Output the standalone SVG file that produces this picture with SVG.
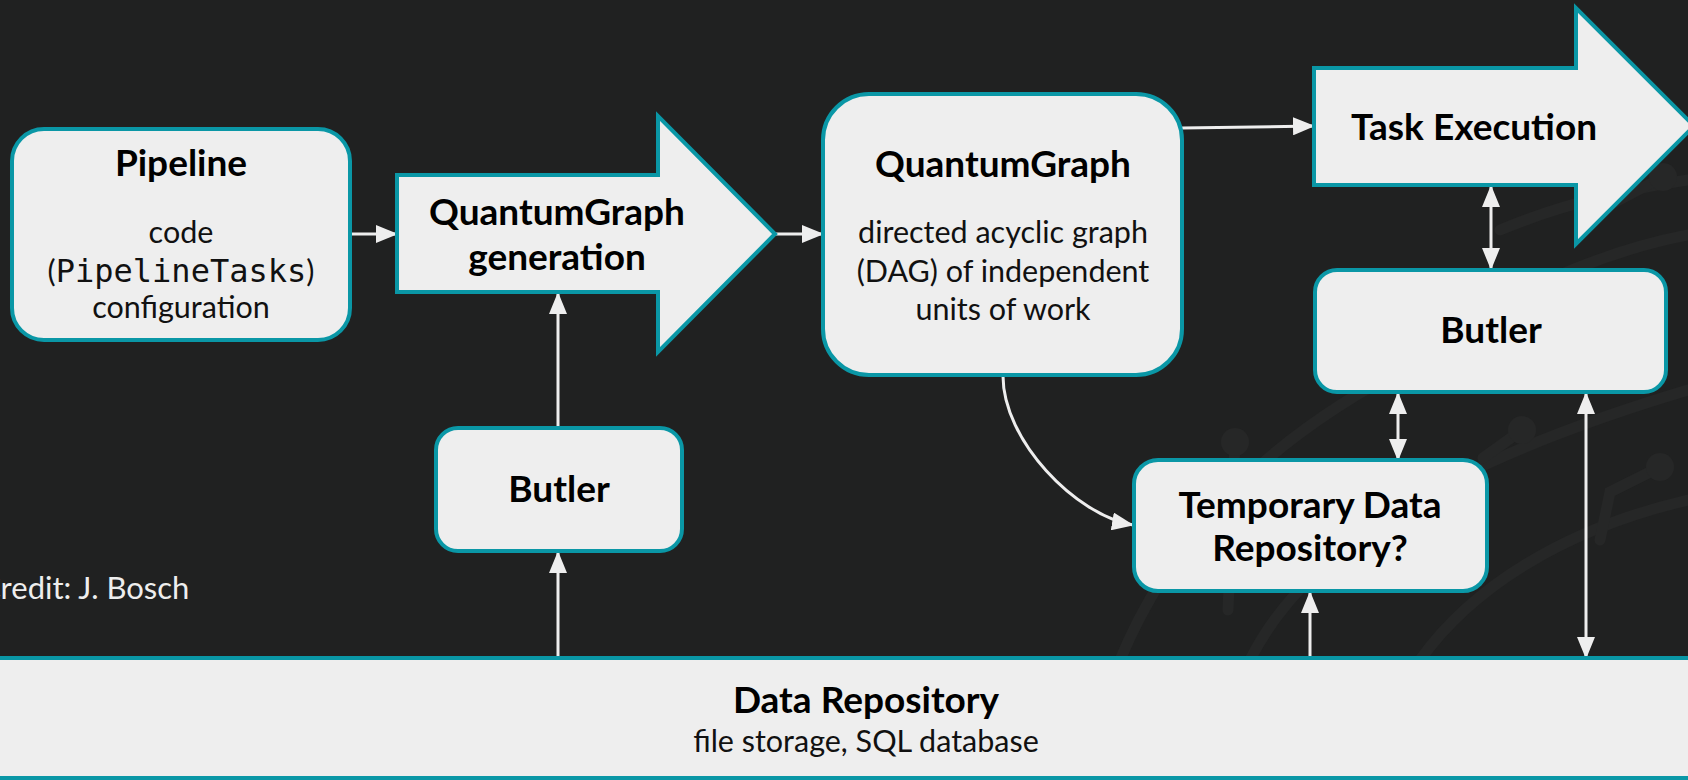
<svg xmlns="http://www.w3.org/2000/svg" width="1688" height="780" viewBox="0 0 1688 780">
  <style>
    .box { fill: #eeeeee; stroke: #0a97a6; stroke-width: 4; }
    .title { font-family: Lato, "Noto Sans", sans-serif; font-weight: 700; font-size: 37px; fill: #000; text-anchor: middle; }
    .body { font-family: Lato, "Noto Sans", sans-serif; font-size: 30.5px; fill: #111; text-anchor: middle; }
    .mono { font-family: "DejaVu Sans Mono", "Liberation Mono", monospace; font-size: 32px; }
    .link { fill: none; stroke: #eeeeee; stroke-width: 3; }
    .deco { fill: none; stroke: #262727; stroke-width: 11; stroke-linecap: round; }
    .decodot { fill: #262727; }
  </style>
  <defs>
    <marker id="head" viewBox="0 0 22 18" refX="21" refY="9" markerWidth="22" markerHeight="18" markerUnits="userSpaceOnUse" orient="auto-start-reverse">
      <path d="M0,0 L22,9 L0,18 z" fill="#eeeeee"/>
    </marker>
  </defs>

  <!-- backdrop -->
  <rect x="0" y="0" width="1688" height="780" fill="#202121"/>

  <!-- faint circuit-style decoration, lower right -->
  <g id="decoration">
    <path class="deco" d="M1120,660 C1170,540 1260,440 1420,360"/>
    <path class="deco" d="M1250,660 C1300,560 1420,470 1688,390"/>
    <path class="deco" d="M1420,660 C1470,590 1560,530 1688,500"/>
    <path class="deco" d="M1450,330 C1540,280 1610,250 1688,235"/>
    <path class="deco" d="M1500,230 C1560,205 1620,190 1688,180"/>
    <path class="deco" d="M1235,442 L1228,610"/>
    <circle class="decodot" cx="1235" cy="442" r="14"/>
    <path class="deco" d="M1522,430 L1483,458"/>
    <circle class="decodot" cx="1522" cy="430" r="14"/>
    <path class="deco" d="M1660,467 L1610,492 L1600,540"/>
    <circle class="decodot" cx="1660" cy="467" r="14"/>
    <path class="deco" d="M1663,177 L1600,210"/>
    <circle class="decodot" cx="1663" cy="177" r="14"/>
  </g>

  <!-- connectors -->
  <g id="connectors">
    <line class="link" x1="350" y1="234" x2="397" y2="234" marker-end="url(#head)"/>
    <line class="link" x1="775" y1="234" x2="823" y2="234" marker-end="url(#head)"/>
    <line class="link" x1="1182" y1="128" x2="1314" y2="126" marker-end="url(#head)"/>
    <line class="link" x1="558" y1="428" x2="558" y2="293" marker-end="url(#head)"/>
    <line class="link" x1="558" y1="658" x2="558" y2="552" marker-end="url(#head)"/>
    <path class="link" d="M1003,376 C1003,440 1075,515 1133,525" marker-end="url(#head)"/>
    <line class="link" x1="1491" y1="186" x2="1491" y2="269" marker-start="url(#head)" marker-end="url(#head)"/>
    <line class="link" x1="1398" y1="393" x2="1398" y2="460" marker-start="url(#head)" marker-end="url(#head)"/>
    <line class="link" x1="1586" y1="393" x2="1586" y2="658" marker-start="url(#head)" marker-end="url(#head)"/>
    <line class="link" x1="1310" y1="658" x2="1310" y2="592" marker-end="url(#head)"/>
  </g>

  <!-- Pipeline -->
  <g id="pipeline">
    <rect class="box" x="12" y="129" width="338" height="211" rx="32"/>
    <text class="title" x="181" y="176">Pipeline</text>
    <text class="body" x="181" y="243">code</text>
    <text class="body" x="181" y="282">(<tspan class="mono">PipelineTasks</tspan>)</text>
    <text class="body" x="181" y="318">configuration</text>
  </g>

  <!-- QuantumGraph generation -->
  <g id="qg-generation">
    <polygon class="box" points="397,175 658,175 658,116 775,234 658,352 658,292 397,292"/>
    <text class="title" x="557" y="225">QuantumGraph</text>
    <text class="title" x="557" y="270">generation</text>
  </g>

  <!-- QuantumGraph -->
  <g id="quantumgraph">
    <rect class="box" x="823" y="94" width="359" height="281" rx="46"/>
    <text class="title" x="1003" y="177">QuantumGraph</text>
    <text class="body" x="1003" y="243">directed acyclic graph</text>
    <text class="body" x="1003" y="282">(DAG) of independent</text>
    <text class="body" x="1003" y="320">units of work</text>
  </g>

  <!-- Task Execution -->
  <g id="task-execution">
    <polygon class="box" points="1314,68 1576,68 1576,8 1694,126 1576,244 1576,185 1314,185"/>
    <text class="title" x="1474" y="140">Task Execution</text>
  </g>

  <!-- Butler feeding graph generation -->
  <g id="butler-left">
    <rect class="box" x="436" y="428" width="246" height="123" rx="22"/>
    <text class="title" x="559" y="502">Butler</text>
  </g>

  <!-- Butler used during execution -->
  <g id="butler-right">
    <rect class="box" x="1315" y="270" width="351" height="122" rx="22"/>
    <text class="title" x="1491" y="343">Butler</text>
  </g>

  <!-- Temporary Data Repository -->
  <g id="temp-repo">
    <rect class="box" x="1134" y="460" width="353" height="131" rx="24"/>
    <text class="title" x="1310" y="518">Temporary Data</text>
    <text class="title" x="1310" y="561">Repository?</text>
  </g>

  <!-- Data Repository band -->
  <g id="data-repo">
    <rect class="box" x="-10" y="658" width="1708" height="120"/>
    <text class="title" x="866" y="713">Data Repository</text>
    <text class="body" x="866" y="752">file storage, SQL database</text>
  </g>

  <text x="-20" y="599" font-family="Lato, 'Noto Sans', sans-serif" font-size="31" fill="#eeeeee">Credit: J. Bosch</text>
</svg>
